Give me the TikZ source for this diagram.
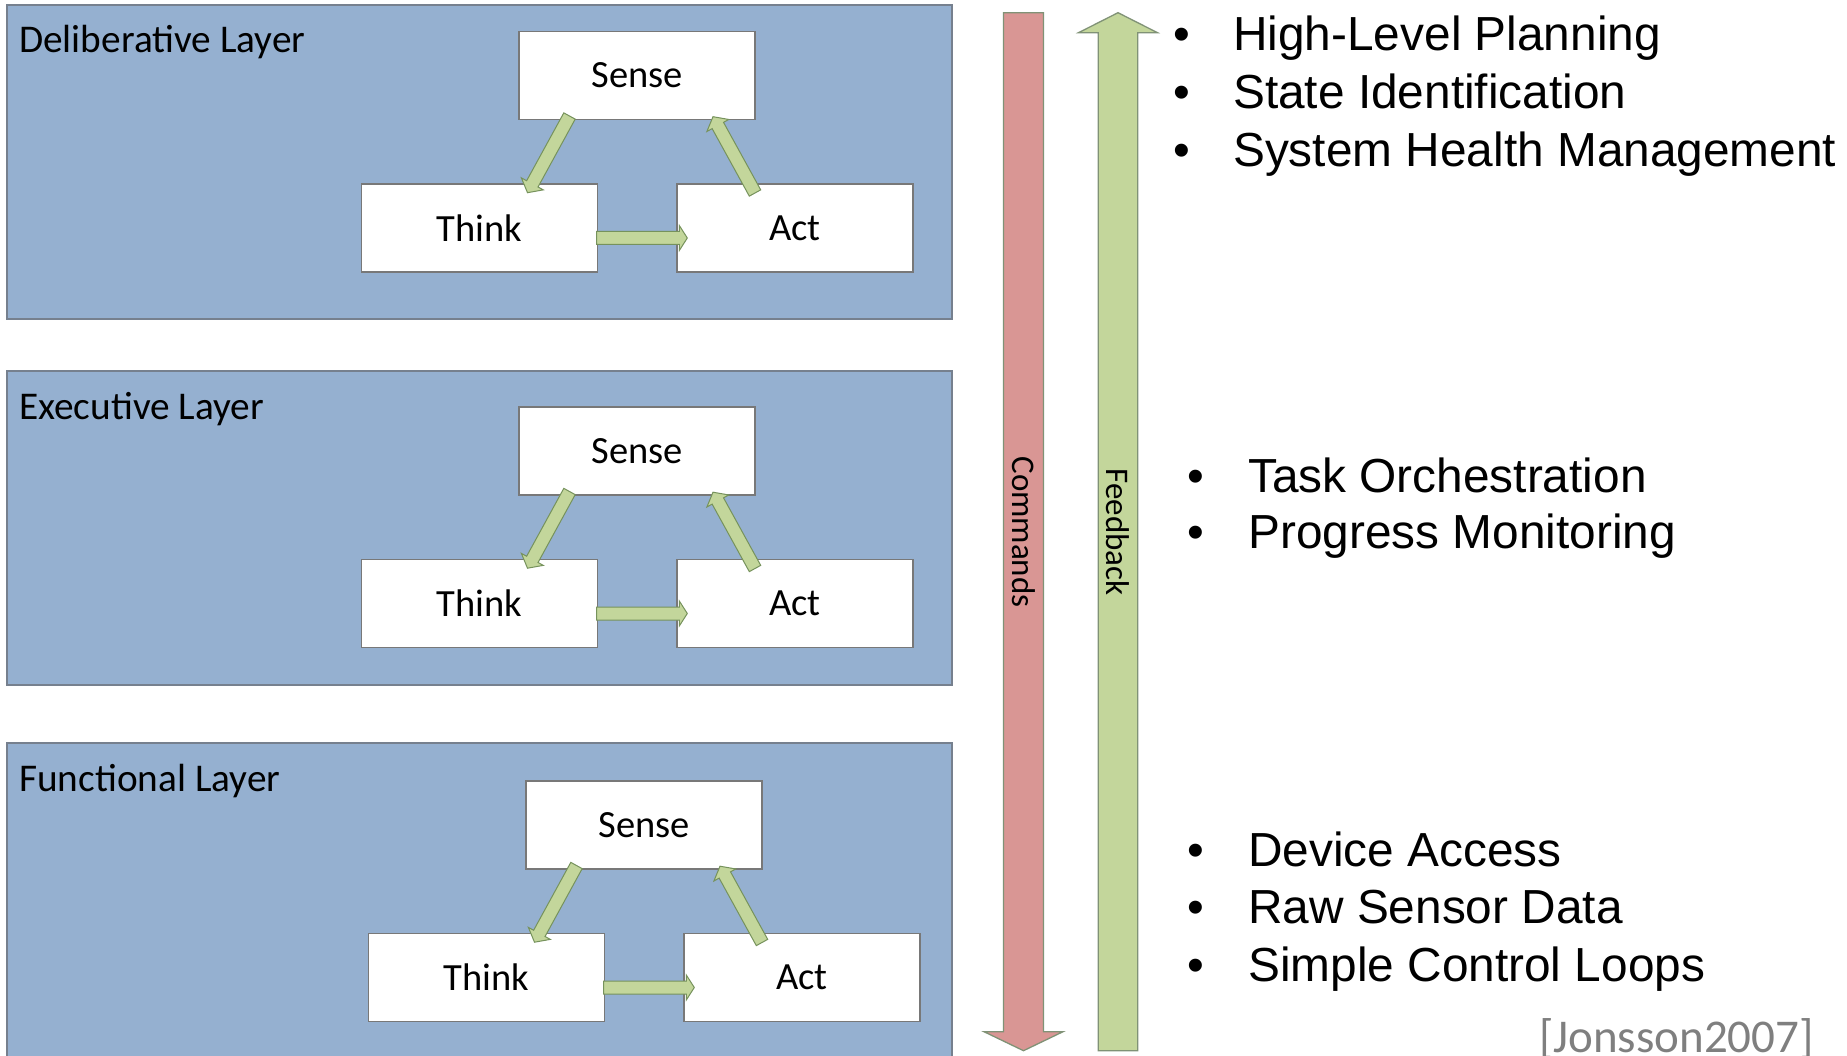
\documentclass[tikz,border=0pt]{standalone}
\usepackage{fontspec}
\setmainfont{Carlito}
\newfontfamily\arialfont{Liberation Sans}
\usetikzlibrary{calc}
\definecolor{layerblue}{RGB}{149,176,208}
\definecolor{layerline}{RGB}{118,128,142}
\definecolor{boxline}{RGB}{120,120,120}
\definecolor{flowgreen}{RGB}{195,214,155}
\definecolor{flowline}{RGB}{118,146,92}
\definecolor{cmdred}{RGB}{217,150,148}
\definecolor{bigline}{RGB}{128,146,118}
\definecolor{citegray}{RGB}{127,127,127}
\tikzset{layer/.style = {draw = layerline, fill = layerblue, line width = 1.6pt},
         layerlabel/.style = {anchor = base west, inner sep = 0pt,
                              font = \fontsize{39.3}{47}\selectfont},
         stagebox/.style = {draw = boxline, fill = white, line width = 1.3pt,
                            minimum width = 236pt, minimum height = 88pt, inner sep = 0pt,
                            font = \fontsize{38.5}{46}\selectfont},
         flow/.style = {draw = flowline, fill = flowgreen, line width = 1pt},
         bigflow/.style = {draw = bigline, line width = 1.3pt},
         biglabel/.style = {rotate = -90, inner sep = 0pt, font = \fontsize{33}{40}\selectfont},
         bulletline/.style = {anchor = base west, inner sep = 0pt,
                              font = \arialfont\fontsize{47.8}{57}\selectfont}}
\newcommand{\blockarrow}[6]{%
  \filldraw [#1] let \p1 = ($(#3) - (#2)$), \n1 = {atan2(\y1, \x1)},
                     \n2 = {veclen(\x1, \y1) - #6} in
    ($(#2) + (\n1 + 90:#4)$) -- ($(#2) + (\n1:\n2) + (\n1 + 90:#4)$)
    -- ($(#2) + (\n1:\n2) + (\n1 + 90:#5)$) -- (#3)
    -- ($(#2) + (\n1:\n2) + (\n1 - 90:#5)$) -- ($(#2) + (\n1:\n2) + (\n1 - 90:#4)$)
    -- ($(#2) + (\n1 - 90:#4)$) -- cycle;}

\begin{document}
\begin{tikzpicture}[x = 1pt, y = -1pt]
  \useasboundingbox (0, 0) rectangle (1847, 1056);
  \foreach \lay/\lname/\ytop/\sy/\dx in {1/Deliberative/5/75.5/0, 2/Executive/371/451/0,
                                         3/Functional/743/825/7} {
    \draw [layer] (7, \ytop) rectangle (952, \ytop + 314);
    \node [layerlabel] (label\lay) at (19, \ytop + 48) {\lname\ Layer};
    \node [stagebox] (sense\lay) at (637 + \dx, \sy) {Sense};
    \node [stagebox] (think\lay) at (479.5 + \dx, \sy + 152.5) {Think};
    \node [stagebox] (act\lay) at (795 + \dx, \sy + 152.5) {Act};
    \coordinate (sta\lay) at ($(sense\lay.center) + (-67.5, 40.5)$);
    \coordinate (stb\lay) at ($(think\lay.center) + (48, -35.3)$);
    \coordinate (taa\lay) at ($(think\lay.center) + (117.2, 10)$);
    \coordinate (tab\lay) at ($(act\lay.center) + (-107.7, 10)$);
    \coordinate (asa\lay) at ($(act\lay.center) + (-40, -35)$);
    \coordinate (asb\lay) at ($(sense\lay.center) + (76, 41.2)$);
    \blockarrow{flow}{sta\lay}{stb\lay}{6.5pt}{12.5pt}{10pt}
    \blockarrow{flow}{taa\lay}{tab\lay}{6.5pt}{12.5pt}{8pt}
    \blockarrow{flow}{asa\lay}{asb\lay}{6.5pt}{12.5pt}{10pt}
  }

  \coordinate (cmdtail) at (1023.5, 12.7);
  \coordinate (cmdtip) at (1023.5, 1050.7);
  \coordinate (fbtail) at (1118, 1050.7);
  \coordinate (fbtip) at (1118, 12.7);
  \blockarrow{bigflow, fill = cmdred}{cmdtail}{cmdtip}{20pt}{39.5pt}{19pt}
  \blockarrow{bigflow, fill = flowgreen}{fbtail}{fbtip}{19.7pt}{39.5pt}{20pt}
  \node [biglabel] (cmdlabel) at (1023.5, 532) {Commands};
  \node [biglabel] (fblabel) at (1118, 532) {Feedback};

  \foreach \bx/\tx/\by/\txt [count = \i] in {1181.5/1233/51/High-Level Planning,
      1181.5/1233/109/State Identification, 1181.5/1233/167/System Health Management,
      1195.5/1248/492/Task Orchestration, 1195.5/1248/548.5/Progress Monitoring,
      1195.5/1248/866.5/Device Access, 1195.5/1248/923/Raw Sensor Data,
      1195.5/1248/981/Simple Control Loops} {
    \node [bulletline, anchor = base] (dot\i) at (\bx, \by) {•};
    \node [bulletline] (item\i) at (\tx, \by) {\txt};
  }

  \node [anchor = base east, inner sep = 0pt, text = citegray,
         font = \fontsize{47}{56}\selectfont] (cite) at (1814, 1052) {[Jonsson2007]};
\end{tikzpicture}
\end{document}
